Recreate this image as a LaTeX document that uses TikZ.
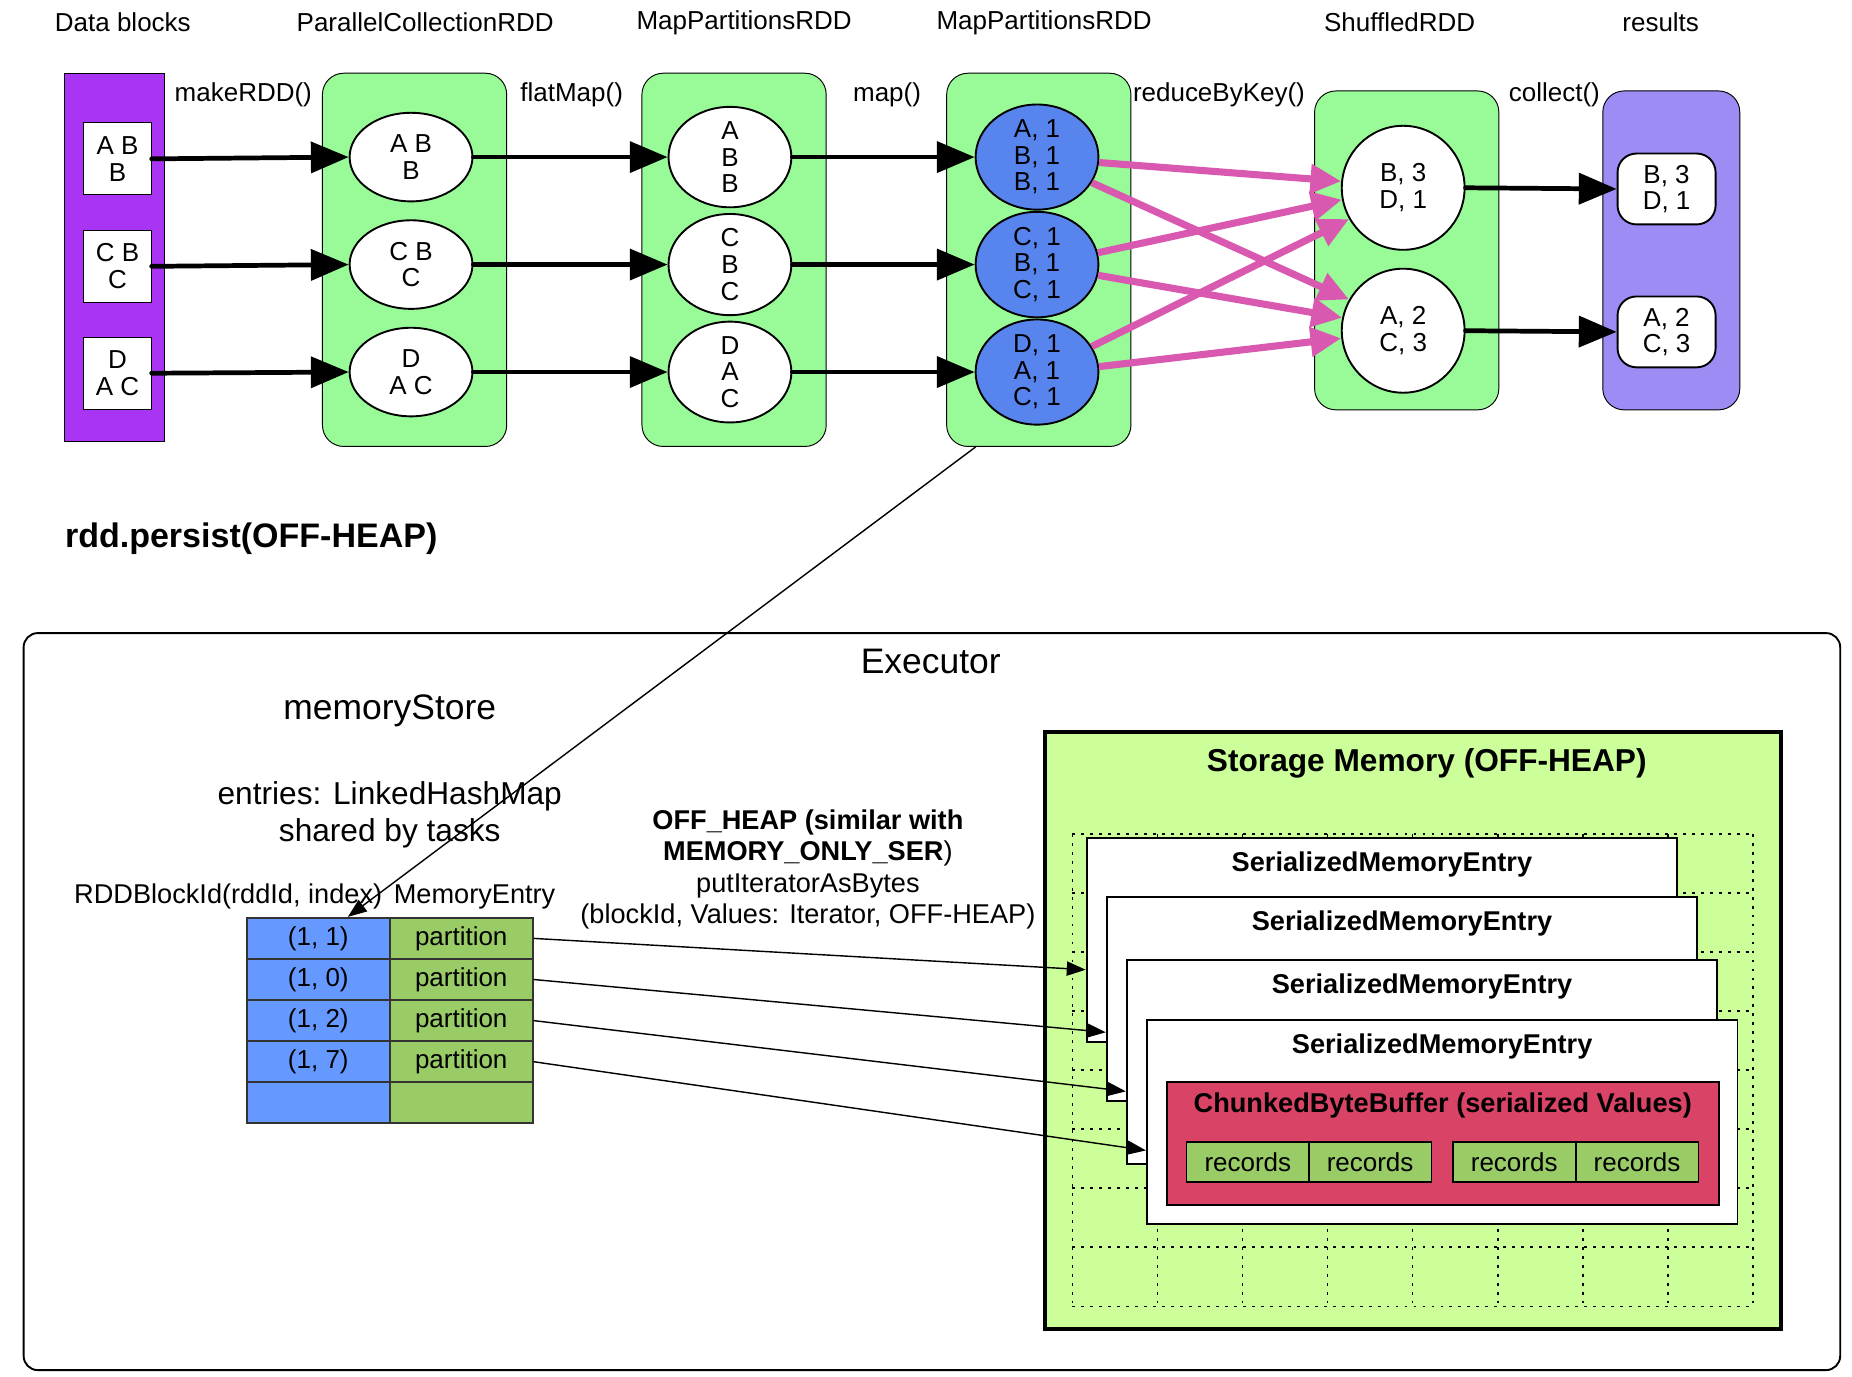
\documentclass[tikz,border=0pt]{standalone}
\usepackage{fontspec}
\setmainfont{Liberation Sans}
\usetikzlibrary{positioning,shapes.geometric,arrows.meta}
\definecolor{blockpurple}{RGB}{170,52,244}
\definecolor{rddgreen}{RGB}{152,251,152}
\definecolor{pairblue}{RGB}{88,132,238}
\definecolor{shufpink}{RGB}{217,88,176}
\definecolor{respurple}{RGB}{158,140,245}
\definecolor{keyblue}{RGB}{102,153,255}
\definecolor{valgreen}{RGB}{153,204,102}
\definecolor{storegreen}{RGB}{204,255,153}
\definecolor{chunkred}{RGB}{217,68,102}
\tikzset{
  txt/.style={font=\fontsize{11}{11.25}\selectfont},
  rddbox/.style={draw,fill=rddgreen,rounded corners=9pt,minimum width=78pt,minimum height=158pt},
  blockbox/.style={txt,draw,fill=white,minimum width=28.5pt,minimum height=30.5pt,inner sep=0pt,align=center},
  partnode/.style={txt,draw,thick,fill=white,ellipse,minimum width=52pt,minimum height=37.5pt,inner sep=0pt,align=center},
  pairnode/.style={partnode,fill=pairblue},
  resnode/.style={txt,draw,thick,fill=white,rounded corners=8pt,minimum width=41.5pt,minimum height=30pt,inner sep=0pt,align=center},
  bigarrow/.style={line width=2pt,line cap=round,-{Triangle[length=16pt,width=13pt]}},
  shufarrow/.style={draw=shufpink,line width=3pt,-{Triangle[length=13pt,width=12pt]}},
  thinarrow/.style={line width=0.6pt,-{Triangle[length=8pt,width=6pt]}},
  keycell/.style={txt,draw=black!80,line width=0.8pt,fill=keyblue,minimum width=60.5pt,minimum height=17.4pt,inner sep=0pt},
  valcell/.style={keycell,fill=valgreen},
  entrybox/.style={draw,thick,fill=white,minimum width=250pt,minimum height=86.5pt},
  entrytitle/.style={font=\bfseries\fontsize{11.5}{13}\selectfont,inner sep=1pt},
  reccell/.style={txt,draw,thick,fill=valgreen,minimum width=52pt,minimum height=17pt,inner sep=0pt},
  gridline/.style={line width=0.7pt,dash pattern=on 1.2pt off 2.6pt}
}
\begin{document}
\begin{tikzpicture}[x=0.5pt,y=-0.5pt]
    \useasboundingbox (0,0) rectangle (1568,1165);
    %% Titles
    \node[txt] (tdata) at (104,19) {Data blocks};
    \node[txt] (tpc) at (360,19) {ParallelCollectionRDD};
    \node[txt] (tmp1) at (630,19) {MapPartitionsRDD};
    \node[txt] (tmp2) at (884,19) {MapPartitionsRDD};
    \node[txt] (tsh) at (1185,19) {ShuffledRDD};
    \node[txt] (tres) at (1406,19) {results};
    %% Operations
    \node[txt] (omake) at (206,80) {makeRDD()};
    \node[txt] (oflat) at (484,80) {flatMap()};
    \node[txt] (omap) at (751,80) {map()};
    \node[txt] (oreduce) at (1032,80) {reduceByKey()};
    \node[txt] (ocollect) at (1316,80) {collect()};
    %% Containers
    \node[draw,fill=blockpurple,minimum width=42pt,minimum height=156pt] (datablk) at (97,218) {};
    \node[rddbox] (pcrdd) at (351,220) {};
    \node[rddbox] (mprdd1) at (621.5,220) {};
    \node[rddbox] (mprdd2) at (879.5,220) {};
    \node[rddbox,minimum height=135pt] (shrdd) at (1191,212) {};
    \node[rddbox,fill=respurple,minimum width=58pt,minimum height=135pt] (resbox) at (1415,212) {};
    %% Blocks and partitions
    \node[blockbox] (blk1) at (99.5,134.5) {A B\\B};
    \node[blockbox] (blk2) at (99.5,225.5) {C B\\C};
    \node[blockbox] (blk3) at (99.5,316) {D\\A C};
    \node[partnode] (pc1) at (348,133) {A B\\B};
    \node[partnode] (pc2) at (348,224) {C B\\C};
    \node[partnode] (pc3) at (348,315) {D\\A C};
    \node[partnode] (mp1) at (618,133) {A\\B\\B};
    \node[partnode] (mp2) at (618,224) {C\\B\\C};
    \node[partnode] (mp3) at (618,315) {D\\A\\C};
    \node[pairnode] (kv1) at (878,133) {A, 1\\B, 1\\B, 1};
    \node[pairnode] (kv2) at (878,224) {C, 1\\B, 1\\C, 1};
    \node[pairnode] (kv3) at (878,315) {D, 1\\A, 1\\C, 1};
    \node[partnode,minimum height=52.5pt] (sh1) at (1188,159) {B, 3\\D, 1};
    \node[partnode,minimum height=52.5pt] (sh2) at (1188,280) {A, 2\\C, 3};
    \node[resnode] (res1) at (1411,160) {B, 3\\D, 1};
    \node[resnode] (res2) at (1411,281) {A, 2\\C, 3};
    %% Dependencies
    \draw[bigarrow] (blk1.east) -- (pc1.west);
    \draw[bigarrow] (blk2.east) -- (pc2.west);
    \draw[bigarrow] (blk3.east) -- (pc3.west);
    \draw[bigarrow] (pc1.east) -- (mp1.west);
    \draw[bigarrow] (pc2.east) -- (mp2.west);
    \draw[bigarrow] (pc3.east) -- (mp3.west);
    \draw[bigarrow] (mp1.east) -- (kv1.west);
    \draw[bigarrow] (mp2.east) -- (kv2.west);
    \draw[bigarrow] (mp3.east) -- (kv3.west);
    \draw[shufarrow] (kv1.-5) -- (sh1.174);
    \draw[shufarrow] (kv1.-25) -- (sh2.150);
    \draw[shufarrow] (kv2.11) -- (sh1.191);
    \draw[shufarrow] (kv2.-10) -- (sh2.168);
    \draw[shufarrow] (kv3.25) -- (sh1.210);
    \draw[shufarrow] (kv3.5) -- (sh2.187);
    \draw[bigarrow] (sh1.east) -- (res1.west);
    \draw[bigarrow] (sh2.east) -- (res2.west);
    %% Persist
    \node[font=\bfseries\fontsize{14.4}{17}\selectfont,anchor=west] (persist) at (48,456) {rdd.persist(OFF-HEAP)};
    %% Executor
    \draw[line width=0.8pt,rounded corners=6pt] (20,536) rectangle (1558,1160);
    \node[font=\fontsize{15}{18}\selectfont] (exec) at (788,560) {Executor};
    \node[font=\fontsize{15}{18}\selectfont] (mstore) at (330,602) {memoryStore};
    \node[font=\fontsize{13.4}{15.5}\selectfont,align=center] (entries) at (330,690) {entries: LinkedHashMap\\shared by tasks};
    \node[font=\fontsize{11.5}{13}\selectfont,anchor=east,inner sep=1pt] (hkey) at (326,759) {RDDBlockId(rddId, index)};
    \node[font=\fontsize{11.5}{13}\selectfont,anchor=west,inner sep=1pt] (hval) at (331,759) {MemoryEntry};
    %% Table
    \node[keycell] (k1) at (269.5,794.5) {(1, 1)};
    \node[keycell] (k2) at (269.5,829.3) {(1, 0)};
    \node[keycell] (k3) at (269.5,864.1) {(1, 2)};
    \node[keycell] (k4) at (269.5,898.9) {(1, 7)};
    \node[keycell] (k5) at (269.5,933.7) {};
    \node[valcell] (v1) at (390.5,794.5) {partition};
    \node[valcell] (v2) at (390.5,829.3) {partition};
    \node[valcell] (v3) at (390.5,864.1) {partition};
    \node[valcell] (v4) at (390.5,898.9) {partition};
    \node[valcell] (v5) at (390.5,933.7) {};
    \node[font=\fontsize{11.5}{13.3}\selectfont,align=center] (puttxt) at (684,736) {\textbf{OFF\_HEAP (similar with}\\\textbf{MEMORY\_ONLY\_SER})\\putIteratorAsBytes\\(blockId, Values: Iterator, OFF-HEAP)};
    %% Storage memory
    \draw[line width=1.8pt,fill=storegreen] (885,620) rectangle (1508,1125);
    \node[font=\bfseries\fontsize{13.4}{16}\selectfont] (stitle) at (1208,646) {Storage Memory (OFF-HEAP)};
    \foreach \gx in {908,980,...,1484} \draw[gridline] (\gx,706) -- (\gx,1105);
    \foreach \gy in {706,756,...,1106} \draw[gridline] (908,\gy) -- (1484,\gy);
    \node[entrybox] (ent1) at (1170,796) {};
    \node[entrytitle,below=5pt of ent1.north] (ent1t) {SerializedMemoryEntry};
    \node[entrybox] (ent2) at (1187,846) {};
    \node[entrytitle,below=5pt of ent2.north] (ent2t) {SerializedMemoryEntry};
    \node[entrybox] (ent3) at (1204,899) {};
    \node[entrytitle,below=5pt of ent3.north] (ent3t) {SerializedMemoryEntry};
    \node[entrybox] (ent4) at (1221,950) {};
    \node[entrytitle,below=5pt of ent4.north] (ent4t) {SerializedMemoryEntry};
    \node[draw,thick,fill=chunkred,minimum width=233.5pt,minimum height=52pt] (chunk) at (1221.5,968) {};
    \node[entrytitle,below=4pt of chunk.north] (chunkt) {ChunkedByteBuffer (serialized Values)};
    \node[reccell] (rec1) at (1056.5,984) {records};
    \node[reccell] (rec2) at (1160,984) {records};
    \node[reccell] (rec3) at (1282,984) {records};
    \node[reccell] (rec4) at (1386,984) {records};
    %% Puts
    \draw[thinarrow] (v1.east) -- ([yshift=-12.5pt]ent1.west);
    \draw[thinarrow] (v2.east) -- ([yshift=-14pt]ent2.west);
    \draw[thinarrow] (v3.east) -- ([yshift=-12.5pt]ent3.west);
    \draw[thinarrow] (v4.east) -- ([yshift=-12pt]ent4.west);
    \draw[thinarrow] ([xshift=-26.75pt]mprdd2.south) -- ([xshift=12.5pt]k1.north);
\end{tikzpicture}
\end{document}
